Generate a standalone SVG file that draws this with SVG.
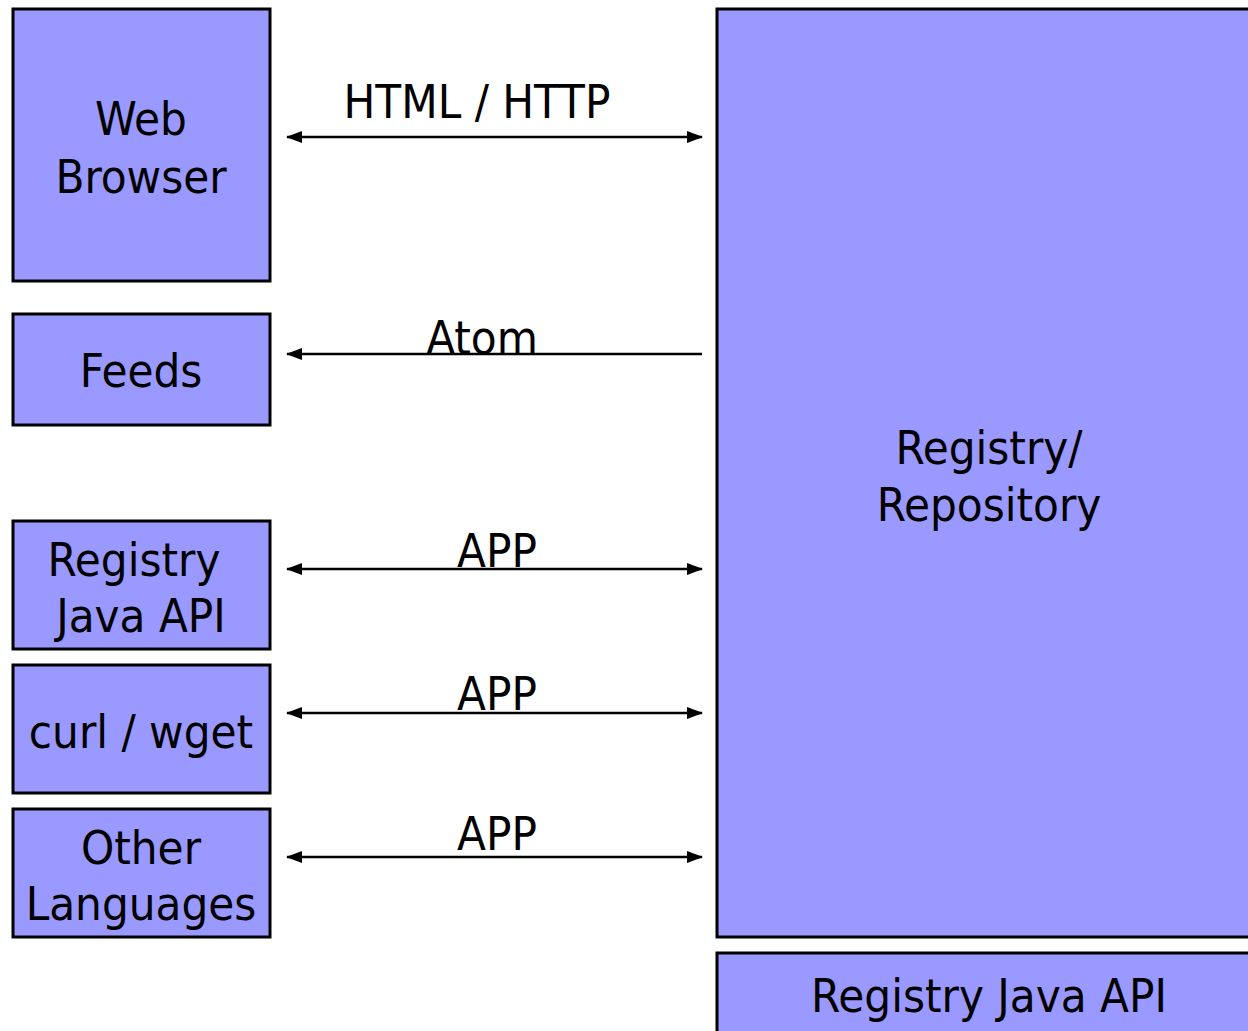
<svg xmlns="http://www.w3.org/2000/svg" width="1248" height="1031" viewBox="0 0 1248 1031">
  <style>
    .box { fill: #9999ff; stroke: #000; stroke-width: 3; }
    .lbl { font-family: "DejaVu Sans Condensed", "DejaVu Sans", Verdana, sans-serif; font-size: 47px; fill: #000; text-anchor: middle; }
    .link { stroke: #000; stroke-width: 2.5; fill: none; }
  </style>
  <defs>
    <marker id="head" viewBox="0 0 16 12" refX="15" refY="6" markerWidth="16" markerHeight="12" markerUnits="userSpaceOnUse" orient="auto-start-reverse">
      <path d="M0,0 L16,6 L0,12 Z" fill="#000"/>
    </marker>
  </defs>
  <rect width="1248" height="1031" fill="#fff"/>

  <g id="web-browser">
    <rect class="box" x="13" y="9" width="257" height="272"/>
    <text class="lbl" x="141" y="135">Web</text>
    <text class="lbl" x="141" y="193">Browser</text>
  </g>
  <g id="feeds">
    <rect class="box" x="13" y="314" width="257" height="111"/>
    <text class="lbl" x="141" y="387">Feeds</text>
  </g>
  <g id="registry-java-api-client">
    <rect class="box" x="13" y="521" width="257" height="128"/>
    <text class="lbl" x="134" y="576">Registry</text>
    <text class="lbl" x="141" y="632">Java API</text>
  </g>
  <g id="curl-wget">
    <rect class="box" x="13" y="665" width="257" height="128"/>
    <text class="lbl" x="141" y="748">curl / wget</text>
  </g>
  <g id="other-languages">
    <rect class="box" x="13" y="809" width="257" height="128"/>
    <text class="lbl" x="141" y="864">Other</text>
    <text class="lbl" x="141" y="920">Languages</text>
  </g>
  <g id="registry-repository">
    <rect class="box" x="717" y="9" width="545" height="928"/>
    <text class="lbl" x="989" y="464">Registry/</text>
    <text class="lbl" x="989" y="521">Repository</text>
  </g>
  <g id="registry-java-api">
    <rect class="box" x="717" y="953" width="545" height="100"/>
    <text class="lbl" x="989" y="1012">Registry Java API</text>
  </g>

  <g id="connectors">
    <line class="link" x1="287" y1="137" x2="702" y2="137" marker-start="url(#head)" marker-end="url(#head)"/>
    <text class="lbl" x="477" y="118">HTML / HTTP</text>
    <line class="link" x1="702" y1="354" x2="287" y2="354" marker-end="url(#head)"/>
    <text class="lbl" x="482" y="354">Atom</text>
    <line class="link" x1="287" y1="569" x2="702" y2="569" marker-start="url(#head)" marker-end="url(#head)"/>
    <text class="lbl" x="497" y="567">APP</text>
    <line class="link" x1="287" y1="713" x2="702" y2="713" marker-start="url(#head)" marker-end="url(#head)"/>
    <text class="lbl" x="497" y="710">APP</text>
    <line class="link" x1="287" y1="857" x2="702" y2="857" marker-start="url(#head)" marker-end="url(#head)"/>
    <text class="lbl" x="497" y="850">APP</text>
  </g>
</svg>
